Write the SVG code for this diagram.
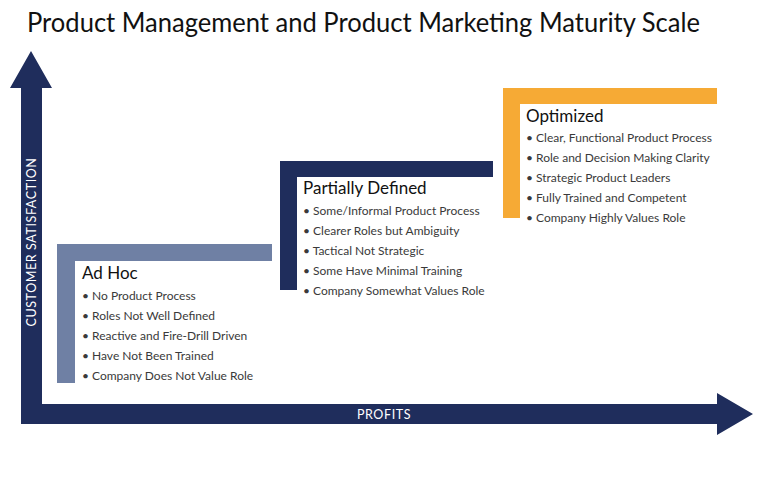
<svg xmlns="http://www.w3.org/2000/svg" width="768" height="480" viewBox="0 0 768 480">
<style>
.t{font-family:Lato,"Open Sans","Liberation Sans",sans-serif}
.title{font-size:26px;fill:#111}
.h{font-size:17px;fill:#111}
.b{font-size:12px;fill:#3a3a3a}
.ax{font-size:12.5px;fill:#fff;letter-spacing:0.6px}
.navy{fill:#1f2d5c}
</style>
<rect width="768" height="480" fill="#fff"/>
<text class="t title" x="27" y="32" textLength="673" lengthAdjust="spacingAndGlyphs">Product Management and Product Marketing Maturity Scale</text>
<g id="axes">
<path class="navy" d="M21,424 L21,88 L10,88 L31,51 L52,88 L42,88 L42,404 L717,404 L717,393 L753,414 L717,435 L717,424 Z"/>
<text class="t ax" x="384" y="419" text-anchor="middle">PROFITS</text>
<text class="t ax" transform="translate(36,242) rotate(-90)" text-anchor="middle">CUSTOMER SATISFACTION</text>
</g>
<g id="adhoc">
<path d="M57,383 L57,244 L272,244 L272,261 L75,261 L75,383 Z" fill="#6f80a4"/>
<text class="t h" x="82" y="279">Ad Hoc</text>
<text class="t b" x="82" y="300">• No Product Process</text>
<text class="t b" x="82" y="320">• Roles Not Well Defined</text>
<text class="t b" x="82" y="340">• Reactive and Fire-Drill Driven</text>
<text class="t b" x="82" y="360">• Have Not Been Trained</text>
<text class="t b" x="82" y="380">• Company Does Not Value Role</text>
</g>
<g id="partially-defined">
<path class="navy" d="M280,290 L280,161 L493,161 L493,177 L297,177 L297,290 Z"/>
<text class="t h" x="303" y="194">Partially Defined</text>
<text class="t b" x="303" y="215">• Some/Informal Product Process</text>
<text class="t b" x="303" y="235">• Clearer Roles but Ambiguity</text>
<text class="t b" x="303" y="255">• Tactical Not Strategic</text>
<text class="t b" x="303" y="275">• Some Have Minimal Training</text>
<text class="t b" x="303" y="295">• Company Somewhat Values Role</text>
</g>
<g id="optimized">
<path d="M503,218 L503,88 L717,88 L717,104 L520,104 L520,218 Z" fill="#f6aa35"/>
<text class="t h" x="526" y="122">Optimized</text>
<text class="t b" x="526" y="142">• Clear, Functional Product Process</text>
<text class="t b" x="526" y="162">• Role and Decision Making Clarity</text>
<text class="t b" x="526" y="182">• Strategic Product Leaders</text>
<text class="t b" x="526" y="202">• Fully Trained and Competent</text>
<text class="t b" x="526" y="222">• Company Highly Values Role</text>
</g>
</svg>
